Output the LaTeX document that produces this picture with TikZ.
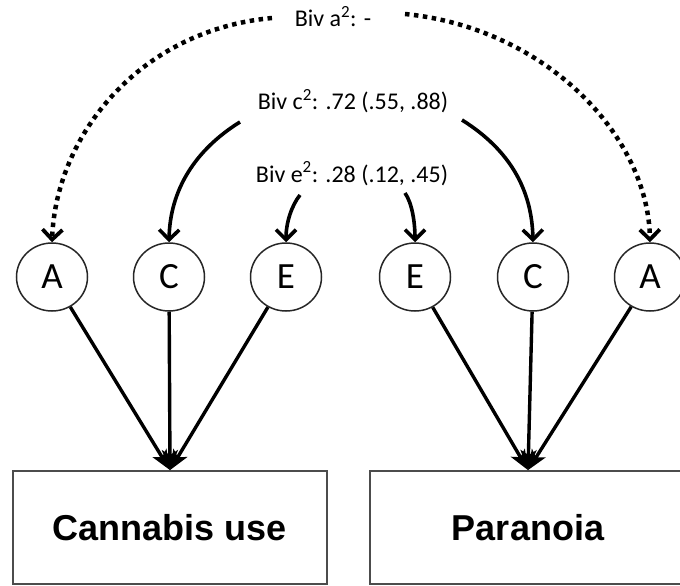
\documentclass[tikz,border=0pt]{standalone}
\usepackage{fontspec}
\setmainfont{Carlito}
\newfontfamily\boxfont{Liberation Sans}
\usetikzlibrary{arrows.meta,shapes.geometric}
\tikzset{
  factor/.style={draw=black!85, line width=1.5pt, ellipse, minimum width=71pt, minimum height=68pt, inner sep=0pt, font=\fontsize{37}{40}\selectfont},
  pheno/.style={draw=black!70, line width=1.8pt, rectangle, inner sep=0pt, font=\boxfont\bfseries\fontsize{36}{40}\selectfont},
  lbl/.style={anchor=base, inner sep=0pt, font=\fontsize{24}{27}\selectfont},
  curvearrow/.style={line width=3.6pt, -{Straight Barb[length=10pt,width=20pt]}},
  dotarrow/.style={line width=4.5pt, dash pattern=on 4.5pt off 4.5pt, -{Straight Barb[length=10pt,width=20pt,line width=3.8pt]}},
  patharrow/.style={line width=3.4pt, -{Stealth[length=20pt,width=16pt,inset=5pt]}}
}
\begin{document}
\begin{tikzpicture}[x=1pt,y=-1pt]
\useasboundingbox (0,0) rectangle (680,586);
\begin{scope}
\clip (0,0) rectangle (680,586);
% boxes
\node[pheno, minimum width=314pt, minimum height=113pt] (cann) at (170,527.5) {Cannabis use};
\node[pheno, minimum width=316pt, minimum height=113pt] (para) at (528,527.5) {Paranoia};
% factor circles
\node[factor] (A1) at (52,277) {A};
\node[factor] (C1) at (169,277) {C};
\node[factor] (E1) at (286,277) {E};
\node[factor] (E2) at (415,277) {E};
\node[factor] (C2) at (533,277) {C};
\node[factor] (A2) at (650,277) {A};
% labels
\node[lbl] (la) at (333,27) {Biv a\textsuperscript{\fontsize{17}{17}\selectfont 2}: -};
\node[lbl] (lc) at (353,110) {Biv c\textsuperscript{\fontsize{17}{17}\selectfont 2}: .72 (.55, .88)};
\node[lbl] (le) at (352,182) {Biv e\textsuperscript{\fontsize{17}{17}\selectfont 2}: .28 (.12, .45)};
\coordinate (sa1) at (272,18);
\coordinate (sa2) at (405,14);
\coordinate (sc1) at (240,122);
\coordinate (sc2) at (462,120);
\coordinate (se1) at (300,195);
\coordinate (se2) at (405,193);
% curved arrows
\draw[dotarrow] (sa1) .. controls (140,30) and (56,135) .. (A1.north);
\draw[dotarrow] (sa2) .. controls (545,28) and (648,135) .. (A2.north);
\draw[curvearrow] (sc1) .. controls (195,150) and (170,190) .. (C1.north);
\draw[curvearrow] (sc2) .. controls (510,150) and (532,190) .. (C2.north);
\draw[curvearrow] (se1) .. controls (292,205) and (286,222) .. (E1.north);
\draw[curvearrow] (se2) .. controls (412,203) and (415,222) .. (E2.north);
% paths to phenotypes
\draw[patharrow] (A1) -- (cann.north);
\draw[patharrow] (C1) -- (cann.north);
\draw[patharrow] (E1) -- (cann.north);
\draw[patharrow] (E2) -- (para.north);
\draw[patharrow] (C2) -- (para.north);
\draw[patharrow] (A2) -- (para.north);
\end{scope}
\end{tikzpicture}
\end{document}
